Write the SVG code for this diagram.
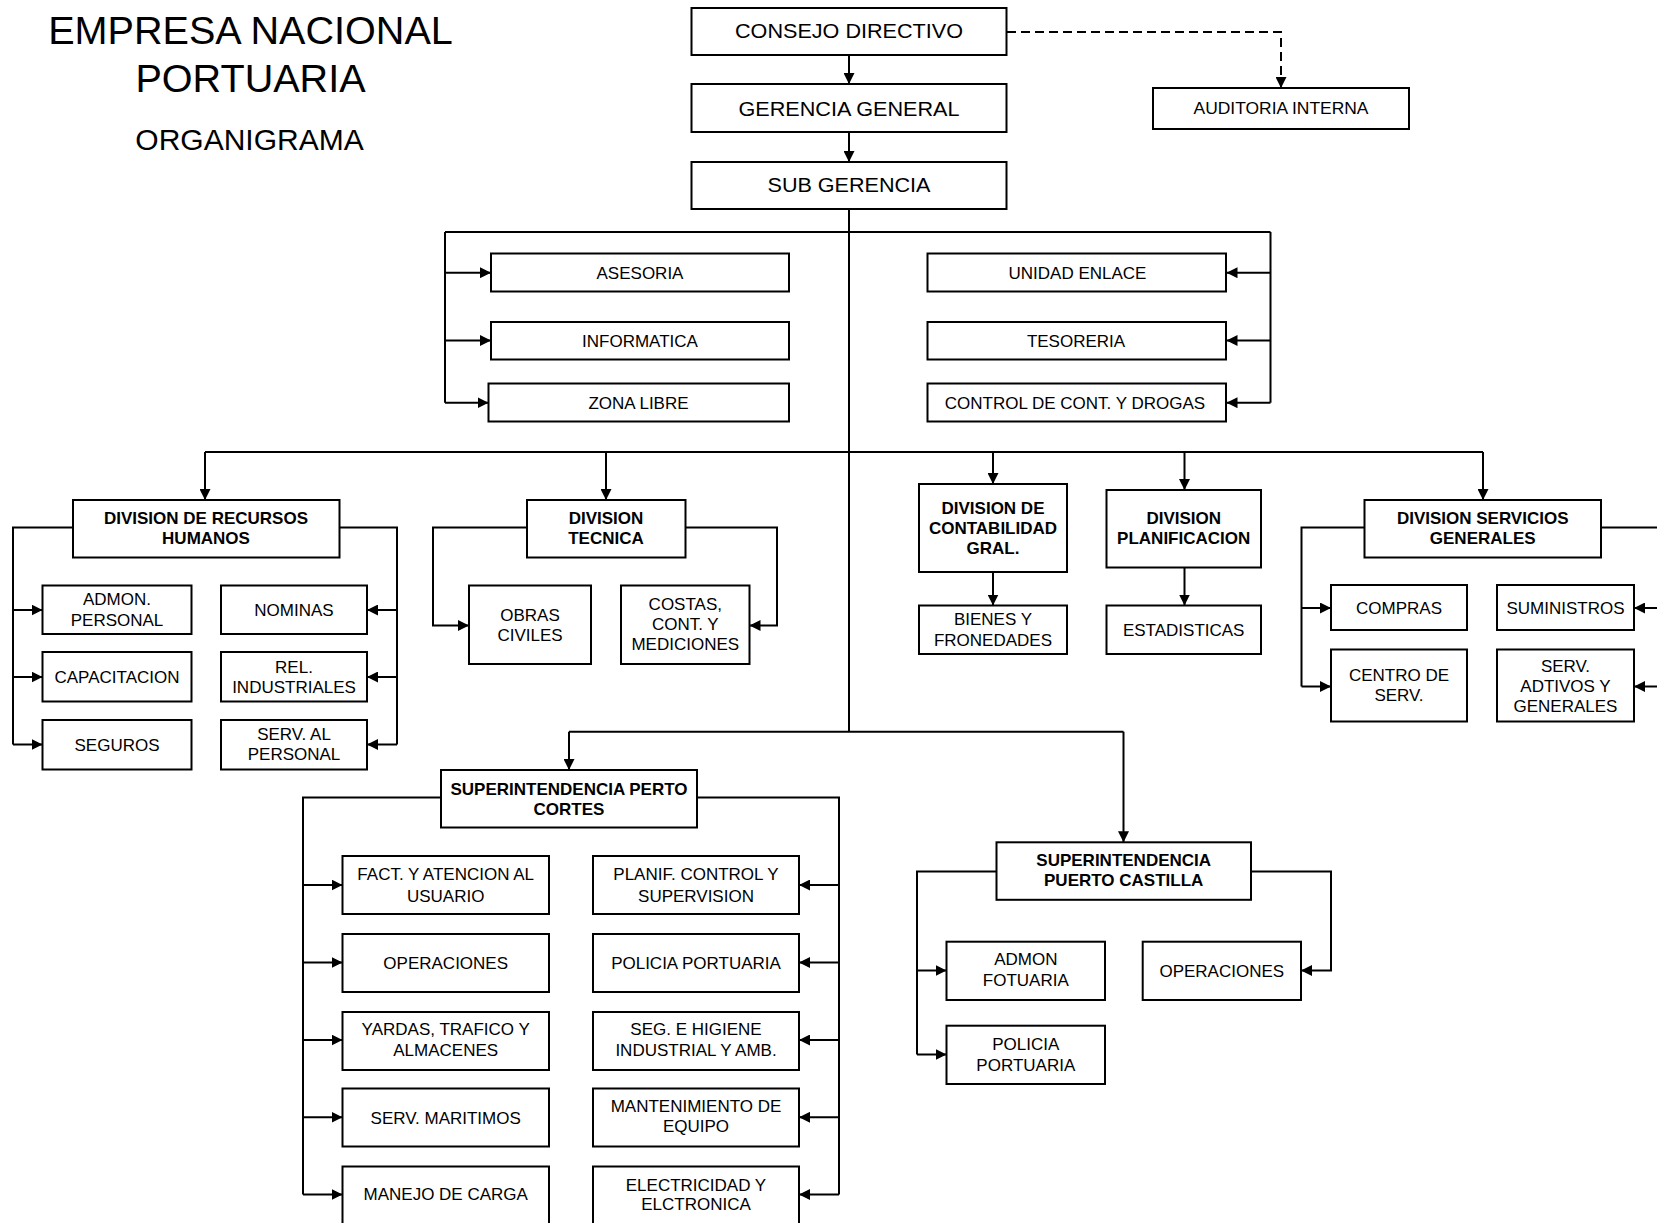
<svg xmlns="http://www.w3.org/2000/svg" width="1657" height="1223" viewBox="0 0 1657 1223">
<defs>
<style>
.bx{fill:#fff;stroke:#000;stroke-width:2}
.t{font-family:"Liberation Sans",Arial,sans-serif;font-size:17px;text-anchor:middle;fill:#000}
.b{font-weight:bold}
.big{font-size:19.5px}
.ttl{font-family:"Liberation Sans",Arial,sans-serif;text-anchor:middle;fill:#000}
.c{fill:none;stroke:#000;stroke-width:2}
.a{fill:none;stroke:#000;stroke-width:2;marker-end:url(#ah)}
.d{fill:none;stroke:#000;stroke-width:2;stroke-dasharray:9 5;marker-end:url(#ah)}
</style>
<marker id="ah" viewBox="0 0 10 10" refX="10" refY="5" markerWidth="11" markerHeight="11" markerUnits="userSpaceOnUse" orient="auto">
<path d="M0,0 L10,5 L0,10 z" fill="#000"/>
</marker>
</defs>
<rect width="1657" height="1223" fill="#fff"/>

<g id="title">
<text class="ttl" x="250.5" y="44.3" font-size="39.6">EMPRESA NACIONAL</text>
<text class="ttl" x="250.5" y="92" font-size="39.6">PORTUARIA</text>
<text class="ttl" x="249.5" y="150" font-size="30">ORGANIGRAMA</text>
</g>

<g id="connectors">
<path class="a" d="M849,55 V84"/>
<path class="a" d="M849,132 V162"/>
<path class="d" d="M1007,32 H1281 V88"/>
<path class="c" d="M849,209 V731.7"/>
<path class="c" d="M445,232 H1270.5"/>
<path class="c" d="M445,232 V402.7"/>
<path class="a" d="M445,272.7 H491"/>
<path class="a" d="M445,340.5 H491"/>
<path class="a" d="M445,402.7 H488.5"/>
<path class="c" d="M1270.5,232 V402.7"/>
<path class="a" d="M1270.5,272.7 H1226.5"/>
<path class="a" d="M1270.5,340.5 H1226.5"/>
<path class="a" d="M1270.5,402.7 H1226.5"/>
<path class="c" d="M205,452 H1483"/>
<path class="a" d="M205,452 V500"/>
<path class="a" d="M606,452 V500"/>
<path class="a" d="M993,452 V484"/>
<path class="a" d="M1184.5,452 V490"/>
<path class="a" d="M1483,452 V500"/>
<path class="c" d="M73,527.5 H13 V744.5"/>
<path class="a" d="M13,610 H42.5"/>
<path class="a" d="M13,677 H42.5"/>
<path class="a" d="M13,744.5 H42.5"/>
<path class="c" d="M339.5,527.5 H397 V744.5"/>
<path class="a" d="M397,610 H367"/>
<path class="a" d="M397,677 H367"/>
<path class="a" d="M397,744.5 H367"/>
<path class="a" d="M527,527.5 H433 V625.5 H469"/>
<path class="a" d="M685.5,527.5 H777 V625.5 H749.5"/>
<path class="a" d="M993,572 V605.5"/>
<path class="a" d="M1184.5,567.5 V605.5"/>
<path class="c" d="M1364.5,527.5 H1301.5 V686.5"/>
<path class="a" d="M1301.5,608 H1331"/>
<path class="a" d="M1301.5,686.5 H1331"/>
<path class="c" d="M1601,527.5 H1660"/>
<path class="a" d="M1662,608 H1634"/>
<path class="a" d="M1662,686.5 H1634"/>
<path class="c" d="M569,731.7 H1123.5"/>
<path class="a" d="M569,731.7 V770"/>
<path class="a" d="M1123.5,731.7 V842.3"/>
<path class="c" d="M441,797.5 H303 V1194.5"/>
<path class="a" d="M303,885 H342.5"/>
<path class="a" d="M303,962.5 H342.5"/>
<path class="a" d="M303,1040 H342.5"/>
<path class="a" d="M303,1117.3 H342.5"/>
<path class="a" d="M303,1194.5 H342.5"/>
<path class="c" d="M697,797.5 H839 V1194.5"/>
<path class="a" d="M839,885 H799"/>
<path class="a" d="M839,962.5 H799"/>
<path class="a" d="M839,1040 H799"/>
<path class="a" d="M839,1117.3 H799"/>
<path class="a" d="M839,1194.5 H799"/>
<path class="c" d="M996.5,871.5 H917 V1054.5"/>
<path class="a" d="M917,970.5 H946.5"/>
<path class="a" d="M917,1054.5 H946.5"/>
<path class="a" d="M1251,871.5 H1331 V970.5 H1301"/>
</g>

<g id="consejo"><rect class="bx" x="691.5" y="8" width="315" height="47"/><text class="t big" x="849" y="37.5" textLength="228" lengthAdjust="spacingAndGlyphs">CONSEJO DIRECTIVO</text></g>
<g id="gerencia"><rect class="bx" x="691.5" y="84" width="315" height="48"/><text class="t big" x="849" y="115.7" textLength="221" lengthAdjust="spacingAndGlyphs">GERENCIA GENERAL</text></g>
<g id="subgerencia"><rect class="bx" x="691.5" y="162" width="315" height="47"/><text class="t big" x="849" y="192.3" textLength="163" lengthAdjust="spacingAndGlyphs">SUB GERENCIA</text></g>
<g id="auditoria"><rect class="bx" x="1153" y="88" width="256" height="41"/><text class="t" x="1281" y="114" font-size="16.5" textLength="175" lengthAdjust="spacingAndGlyphs">AUDITORIA INTERNA</text></g>

<g id="asesoria"><rect class="bx" x="491" y="253.5" width="298" height="38"/><text class="t" x="640" y="278.8">ASESORIA</text></g>
<g id="informatica"><rect class="bx" x="491" y="322" width="298" height="37.5"/><text class="t" x="640" y="346.8">INFORMATICA</text></g>
<g id="zonalibre"><rect class="bx" x="488.5" y="383.5" width="300.5" height="38"/><text class="t" x="638.5" y="408.8">ZONA LIBRE</text></g>
<g id="unidadenlace"><rect class="bx" x="927.5" y="253.5" width="298.5" height="38"/><text class="t" x="1077.5" y="278.8">UNIDAD ENLACE</text></g>
<g id="tesoreria"><rect class="bx" x="927.5" y="322" width="298.5" height="37.5"/><text class="t" x="1076" y="346.8">TESORERIA</text></g>
<g id="control"><rect class="bx" x="927.5" y="383.5" width="298.5" height="38"/><text class="t" x="1075" y="408.8" font-size="17.3">CONTROL DE CONT. Y DROGAS</text></g>

<g id="div-rrhh"><rect class="bx" x="73" y="500" width="266.5" height="57.5"/><text class="t b" x="206" y="523.7">DIVISION DE RECURSOS</text><text class="t b" x="206" y="543.7">HUMANOS</text></g>
<g id="div-tecnica"><rect class="bx" x="527" y="500" width="158.5" height="57.5"/><text class="t b" x="606" y="523.7">DIVISION</text><text class="t b" x="606" y="543.7">TECNICA</text></g>
<g id="div-contab"><rect class="bx" x="919" y="484" width="148" height="88"/><text class="t b" x="993" y="514.3">DIVISION DE</text><text class="t b" x="993" y="534.3">CONTABILIDAD</text><text class="t b" x="993" y="554.3">GRAL.</text></g>
<g id="div-planif"><rect class="bx" x="1106.5" y="490" width="154.5" height="77.5"/><text class="t b" x="1183.7" y="524.3">DIVISION</text><text class="t b" x="1183.7" y="544.3">PLANIFICACION</text></g>
<g id="div-servicios"><rect class="bx" x="1364.5" y="500" width="236.5" height="57.5"/><text class="t b" x="1482.7" y="523.7">DIVISION SERVICIOS</text><text class="t b" x="1482.7" y="543.7">GENERALES</text></g>

<g id="admon-personal"><rect class="bx" x="42.5" y="585.5" width="149" height="48.5"/><text class="t" x="117" y="605.2">ADMON.</text><text class="t" x="117" y="626.2">PERSONAL</text></g>
<g id="capacitacion"><rect class="bx" x="42.5" y="652" width="149" height="49.5"/><text class="t" x="117" y="683">CAPACITACION</text></g>
<g id="seguros"><rect class="bx" x="42.5" y="720" width="149" height="49.5"/><text class="t" x="117" y="751">SEGUROS</text></g>
<g id="nominas"><rect class="bx" x="221" y="585.5" width="146" height="48.5"/><text class="t" x="294" y="616">NOMINAS</text></g>
<g id="rel-industriales"><rect class="bx" x="221" y="652" width="146" height="49.5"/><text class="t" x="294" y="672.5">REL.</text><text class="t" x="294" y="692.5">INDUSTRIALES</text></g>
<g id="serv-personal"><rect class="bx" x="221" y="720" width="146" height="49.5"/><text class="t" x="294" y="740">SERV. AL</text><text class="t" x="294" y="760">PERSONAL</text></g>

<g id="obras-civiles"><rect class="bx" x="469" y="585.5" width="122" height="78.5"/><text class="t" x="530" y="621.2">OBRAS</text><text class="t" x="530" y="640.5">CIVILES</text></g>
<g id="costas"><rect class="bx" x="621" y="585.5" width="128.5" height="78.5"/><text class="t" x="685.3" y="609.5">COSTAS,</text><text class="t" x="685.3" y="629.5">CONT. Y</text><text class="t" x="685.3" y="649.5">MEDICIONES</text></g>

<g id="bienes"><rect class="bx" x="919" y="605.5" width="148" height="48.5"/><text class="t" x="993" y="624.5">BIENES Y</text><text class="t" x="993" y="646">FRONEDADES</text></g>
<g id="estadisticas"><rect class="bx" x="1106.5" y="605.5" width="154.5" height="48.5"/><text class="t" x="1183.7" y="636">ESTADISTICAS</text></g>

<g id="compras"><rect class="bx" x="1331" y="585" width="136" height="45"/><text class="t" x="1399" y="613.7">COMPRAS</text></g>
<g id="centro-serv"><rect class="bx" x="1331" y="649.5" width="136" height="72"/><text class="t" x="1399" y="680.5">CENTRO DE</text><text class="t" x="1399" y="700.5">SERV.</text></g>
<g id="suministros"><rect class="bx" x="1497" y="585" width="137" height="45"/><text class="t" x="1565.5" y="613.7">SUMINISTROS</text></g>
<g id="serv-adtivos"><rect class="bx" x="1497" y="649.5" width="137" height="72"/><text class="t" x="1565.5" y="671.7">SERV.</text><text class="t" x="1565.5" y="691.7">ADTIVOS Y</text><text class="t" x="1565.5" y="711.7">GENERALES</text></g>

<g id="sup-cortes"><rect class="bx" x="441" y="770" width="256" height="57.5"/><text class="t b" x="569" y="794.5">SUPERINTENDENCIA PERTO</text><text class="t b" x="569" y="814.5">CORTES</text></g>
<g id="fact"><rect class="bx" x="342.5" y="856" width="206.5" height="58"/><text class="t" x="445.7" y="880.2">FACT. Y ATENCION AL</text><text class="t" x="445.7" y="901.9">USUARIO</text></g>
<g id="operaciones-pc"><rect class="bx" x="342.5" y="934" width="206.5" height="58"/><text class="t" x="445.7" y="969">OPERACIONES</text></g>
<g id="yardas"><rect class="bx" x="342.5" y="1012" width="206.5" height="58"/><text class="t" x="445.7" y="1034.5">YARDAS, TRAFICO Y</text><text class="t" x="445.7" y="1056">ALMACENES</text></g>
<g id="serv-maritimos"><rect class="bx" x="342.5" y="1088.5" width="206.5" height="58"/><text class="t" x="445.7" y="1123.5">SERV. MARITIMOS</text></g>
<g id="manejo-carga"><rect class="bx" x="342.5" y="1166.5" width="206.5" height="62"/><text class="t" x="445.7" y="1199.5">MANEJO DE CARGA</text></g>
<g id="planif-control"><rect class="bx" x="593" y="856" width="206" height="58"/><text class="t" x="696" y="880.2">PLANIF. CONTROL Y</text><text class="t" x="696" y="901.9">SUPERVISION</text></g>
<g id="policia-pc"><rect class="bx" x="593" y="934" width="206" height="58"/><text class="t" x="696" y="969">POLICIA PORTUARIA</text></g>
<g id="seg-higiene"><rect class="bx" x="593" y="1012" width="206" height="58"/><text class="t" x="696" y="1034.5">SEG. E HIGIENE</text><text class="t" x="696" y="1056">INDUSTRIAL Y AMB.</text></g>
<g id="mantenimiento"><rect class="bx" x="593" y="1088.5" width="206" height="58"/><text class="t" x="696" y="1112">MANTENIMIENTO DE</text><text class="t" x="696" y="1132">EQUIPO</text></g>
<g id="electricidad"><rect class="bx" x="593" y="1166.5" width="206" height="62"/><text class="t" x="696" y="1191">ELECTRICIDAD Y</text><text class="t" x="696" y="1210">ELCTRONICA</text></g>

<g id="sup-castilla"><rect class="bx" x="996.5" y="842.3" width="254.5" height="57.5"/><text class="t b" x="1123.7" y="866">SUPERINTENDENCIA</text><text class="t b" x="1123.7" y="886">PUERTO CASTILLA</text></g>
<g id="admon-fotuaria"><rect class="bx" x="946.5" y="941.7" width="158.5" height="58.3"/><text class="t" x="1025.8" y="964.5">ADMON</text><text class="t" x="1025.8" y="986">FOTUARIA</text></g>
<g id="policia-pca"><rect class="bx" x="946.5" y="1025.7" width="158.5" height="58.3"/><text class="t" x="1025.8" y="1050">POLICIA</text><text class="t" x="1025.8" y="1071">PORTUARIA</text></g>
<g id="operaciones-pca"><rect class="bx" x="1142.7" y="941.7" width="158.3" height="58.3"/><text class="t" x="1221.8" y="976.5">OPERACIONES</text></g>
</svg>
